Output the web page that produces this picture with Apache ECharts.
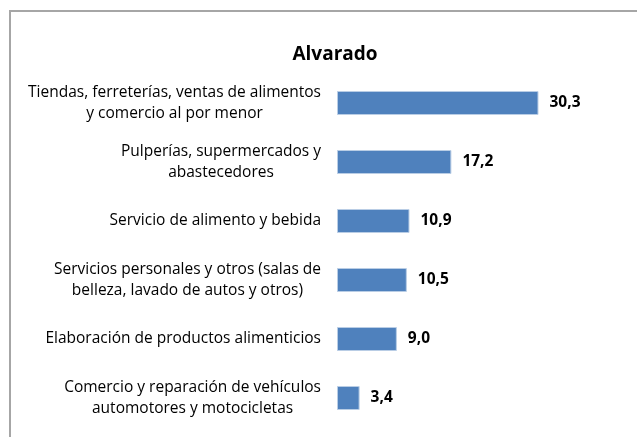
<!DOCTYPE html>
<html>
<head>
<meta charset="utf-8">
<script src="https://cdn.jsdelivr.net/npm/echarts@6/dist/echarts.min.js"></script>
<style>
  html, body { margin: 0; padding: 0; background: #fff; }
  #wrap { position: relative; width: 637px; height: 437px; overflow: hidden; }
  #frame { position: absolute; left: 9px; top: 10px; width: 700px; height: 500px;
           border-left: 2px solid #a6a6a6; border-top: 2px solid #a6a6a6; }
  #chart { position: absolute; left: 0; top: 0; width: 637px; height: 437px; }
</style>
</head>
<body>
<div id="wrap">
  <div id="frame"></div>
  <div id="chart"></div>
</div>
<script>
const categories = [
  ['Tiendas, ferreterías, ventas de alimentos', 'y comercio al por menor'],
  ['Pulperías, supermercados y', 'abastecedores'],
  ['Servicio de alimento y bebida'],
  ['Servicios personales y otros (salas de', 'belleza, lavado de autos y otros)'],
  ['Elaboración de productos alimenticios'],
  ['Comercio y reparación de vehículos', 'automotores y motocicletas'],
];
const values = [30.3, 17.2, 10.9, 10.5, 9.0, 3.4];

const FONT = '"Open Sans", "Noto Sans", sans-serif';

const chart = echarts.init(document.getElementById('chart'));

chart.setOption({
  animation: false,
  backgroundColor: 'transparent',
  title: {
    text: 'Alvarado',
    left: 330,
    top: 40,
    textAlign: 'center',
    textStyle: { fontFamily: FONT, fontSize: 19, fontWeight: 'bold', color: '#000' },
  },
  grid: { left: 337, top: 73.5, width: 266, height: 354 },
  xAxis: {
    type: 'value',
    min: 0,
    max: 40,
    show: false,
  },
  yAxis: {
    type: 'category',
    inverse: true,
    data: categories.map((c, i) => String(i)),
    axisLine: { show: false },
    axisTick: { show: false },
    axisLabel: {
      margin: 16,
      align: 'right',
      lineHeight: 21,
      formatter: (v) => categories[+v].map((l) => '{c|' + l + '}').join('\n'),
      rich: {
        c: { align: 'center', fontFamily: FONT, fontSize: 15.5, color: '#000', lineHeight: 21 },
      },
    },
  },
  series: [
    {
      type: 'bar',
      data: values,
      barWidth: 24,
      itemStyle: { color: '#4f81bd', borderColor: '#b9cde5', borderWidth: 1 },
      label: {
        show: true,
        position: 'right',
        distance: 11,
        formatter: (p) => p.value.toFixed(1).replace('.', ','),
        fontFamily: FONT,
        fontSize: 15.5,
        fontWeight: 'bold',
        color: '#000',
      },
    },
  ],
});
</script>
</body>
</html>
